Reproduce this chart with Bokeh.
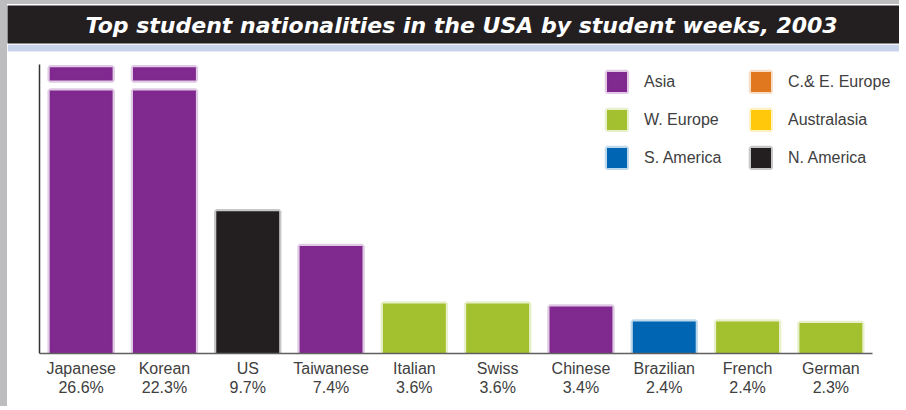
from bokeh.plotting import figure
from bokeh.models import (ColumnDataSource, Range1d, Legend, LegendItem,
                          BoxAnnotation, FixedTicker)
from bokeh.embed import file_html
from bokeh.resources import INLINE

# ---- data ----
nationalities = ["Japanese", "Korean", "US", "Taiwanese", "Italian",
                 "Swiss", "Chinese", "Brazilian", "French", "German"]
shares = [26.6, 22.3, 9.7, 7.4, 3.6, 3.6, 3.4, 2.4, 2.4, 2.3]
regions = ["Asia", "Asia", "N. America", "Asia", "W. Europe",
           "W. Europe", "Asia", "S. America", "W. Europe", "W. Europe"]
legend_col1 = ["Asia", "W. Europe", "S. America"]
legend_col2 = ["C.& E. Europe", "Australasia", "N. America"]
region_colors = {
    "Asia": "#80298f",
    "W. Europe": "#a3c12f",
    "S. America": "#0066b3",
    "C.& E. Europe": "#e07820",
    "Australasia": "#ffc80b",
    "N. America": "#231f20",
}
title_text = "Top student nationalities in the USA by student weeks, 2003"

# broken-axis settings (in %)
BREAK_LO = 17.71
BREAK_HI = 18.37
CAP_TOP = 19.26
AXIS_TOP = 19.45

FONT = "Liberation Sans"
NAN = float("nan")

positions = [i + 0.5 for i in range(len(nationalities))]

p = figure(width=899, height=406,
           x_range=Range1d(-0.384, 10.408),
           y_range=Range1d(0.28, 20.76),
           output_backend="svg", toolbar_location=None,
           min_border_left=0, min_border_right=0,
           min_border_top=38, min_border_bottom=57)
p.styles = {"border-left": "7px solid #bdbdbf", "border-top": "4px solid #bdbdbf"}
p.outline_line_color = None
p.background_fill_color = "white"
p.border_fill_color = "white"
p.xgrid.grid_line_color = None
p.ygrid.grid_line_color = None

# title bar
p.title.text = title_text
p.title.align = "left"
p.title.offset = 0
p.title.standoff = 0
p.title.vertical_align = "middle"
p.title.text_font = "DejaVu Sans"
p.title.text_font_style = "bold italic"
p.title.text_font_size = "22px"
p.title.text_color = "white"
p.title.background_fill_color = "#231f20"
p.title.padding = dict(left=78, right=300, top=7, bottom=6)

# light strip under the title bar
p.add_layout(BoxAnnotation(top=20.76, bottom=20.3,
                           fill_color="#c8d4ec", fill_alpha=1, line_color=None,
                           level="underlay"))

renderers = {}
for reg in legend_col1 + legend_col2:
    idx = [i for i, r in enumerate(regions) if r == reg]
    col = region_colors[reg]
    xs = [positions[i] for i in idx] or [NAN]
    tops = [min(shares[i], BREAK_LO) for i in idx] or [NAN]
    src = ColumnDataSource(dict(x=xs, top=tops))
    renderers[reg] = p.vbar(x="x", top="top", bottom=0, width=0.755, source=src,
                            fill_color=col, line_color=col, line_alpha=0.25,
                            line_width=4.5)
    cap_idx = [i for i in idx if shares[i] > BREAK_LO]
    if cap_idx:
        csrc = ColumnDataSource(dict(x=[positions[i] for i in cap_idx]))
        p.vbar(x="x", top=CAP_TOP, bottom=BREAK_HI, width=0.755, source=csrc,
               fill_color=col, line_color=col, line_alpha=0.25, line_width=4.5)

# axes
p.yaxis.fixed_location = 0
p.yaxis.ticker = FixedTicker(ticks=[])
p.yaxis.bounds = (0.28, AXIS_TOP)
p.yaxis.axis_line_color = "#333333"
p.yaxis.axis_line_width = 1.5
p.yaxis.minor_tick_line_color = None
p.yaxis.major_tick_line_color = None

p.xaxis.ticker = FixedTicker(ticks=positions)
p.xaxis.bounds = (0, len(nationalities))
p.xaxis.axis_line_color = "#606060"
p.xaxis.axis_line_width = 1.6
p.xaxis.major_tick_line_color = None
p.xaxis.minor_tick_line_color = None
p.xaxis.major_tick_out = 0
p.xaxis.major_tick_in = 0
p.xaxis.major_label_standoff = 6
p.xaxis.major_label_text_font = FONT
p.xaxis.major_label_text_font_size = "16px"
p.xaxis.major_label_text_color = "#404040"
p.xaxis.major_label_text_line_height = 1.17
p.xaxis.major_label_overrides = {x: f"{n}\n{s:.1f}%"
                                 for x, n, s in zip(positions, nationalities, shares)}

# legends
def make_legend(names, loc):
    leg = Legend(items=[LegendItem(label=n, renderers=[renderers[n]]) for n in names],
                 location=loc, orientation="vertical",
                 glyph_width=25, glyph_height=25, spacing=13, label_standoff=15,
                 label_text_font=FONT, label_text_font_size="16px",
                 label_text_color="#404040", padding=0, margin=0,
                 border_line_alpha=0, background_fill_alpha=0)
    p.add_layout(leg, "center")

make_legend(legend_col1, (597, 183))
make_legend(legend_col2, (741, 183))

open("out.html", "w").write(file_html(p, INLINE))
